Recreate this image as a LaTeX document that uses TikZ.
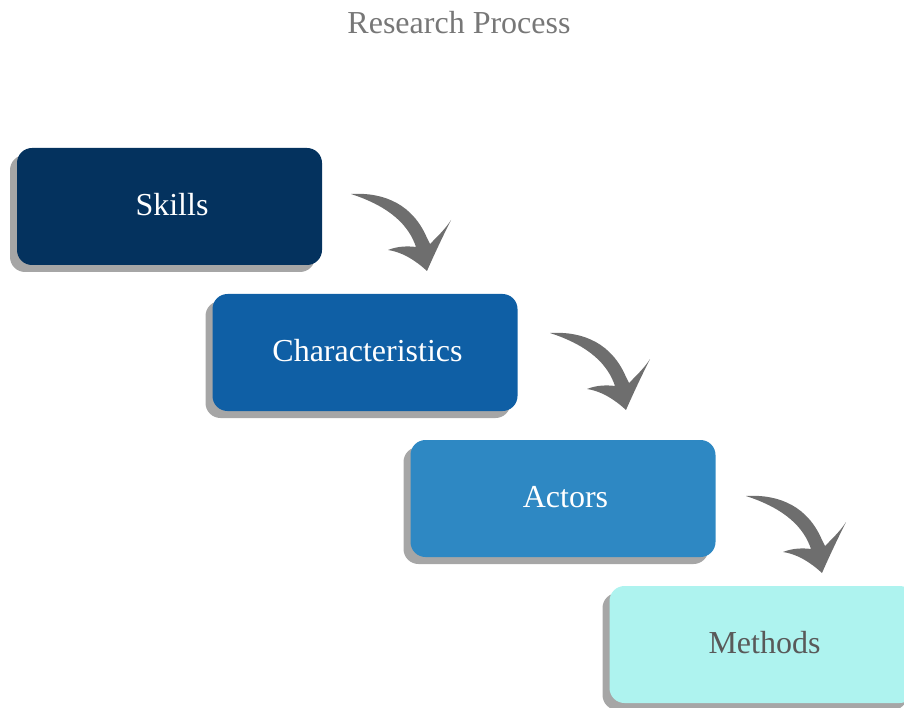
\documentclass[tikz,border=0pt]{standalone}
\usepackage{fontspec}
\setmainfont{Liberation Serif}
\usetikzlibrary{shadows}
\definecolor{stepA}{HTML}{04325E}
\definecolor{stepB}{HTML}{0F5FA5}
\definecolor{stepC}{HTML}{2E88C3}
\definecolor{stepD}{HTML}{AEF3EF}
\definecolor{shadowgray}{HTML}{A6A6A6}
\definecolor{arrowgray}{HTML}{6E6E6E}
\definecolor{titlegray}{HTML}{777777}
\definecolor{darktext}{HTML}{595959}
\tikzset{
  stepbox/.style={rounded corners=15pt, minimum width=305pt, minimum height=117pt,
    inner sep=0pt, font=\fontsize{32}{38}\selectfont, text=white,
    text height=23pt, text depth=5pt,
    execute at begin node={\hspace*{5pt}},
    drop shadow={shadow xshift=-7pt, shadow yshift=-7pt, opacity=1, fill=shadowgray}},
  bendarrow/.pic={
    \fill[arrowgray] (0,0)
      .. controls (34,-2) and (62,11) .. (76,44)
      -- (79,50)
      .. controls (88,41) and (95,34) .. (100,26)
      .. controls (91,44) and (83,61) .. (76,77)
      .. controls (64,66) and (51,58) .. (37,56)
      .. controls (47,52) and (57,52) .. (65,53)
      .. controls (58,32) and (40,13) .. (0,0) -- cycle;
  }
}
\begin{document}
\begin{tikzpicture}[x=1pt, y=-1pt]
  \useasboundingbox (0,0) rectangle (904,708);
  \clip (0,0) rectangle (904,708);
  \node[font=\fontsize{32}{38}\selectfont, text=titlegray] (title) at (459,22.5) {Research Process};
  \node[stepbox, fill=stepA] (skills) at (169.5,206.5) {Skills};
  \node[stepbox, fill=stepB] (chars) at (365,352.5) {Characteristics};
  \node[stepbox, fill=stepC] (actors) at (563,498.5) {Actors};
  \node[stepbox, fill=stepD, text=darktext] (methods) at (762,644.5) {Methods};
  \pic at (351,194) {bendarrow};
  \pic at (550,333) {bendarrow};
  \pic at (746,496) {bendarrow};
\end{tikzpicture}
\end{document}
